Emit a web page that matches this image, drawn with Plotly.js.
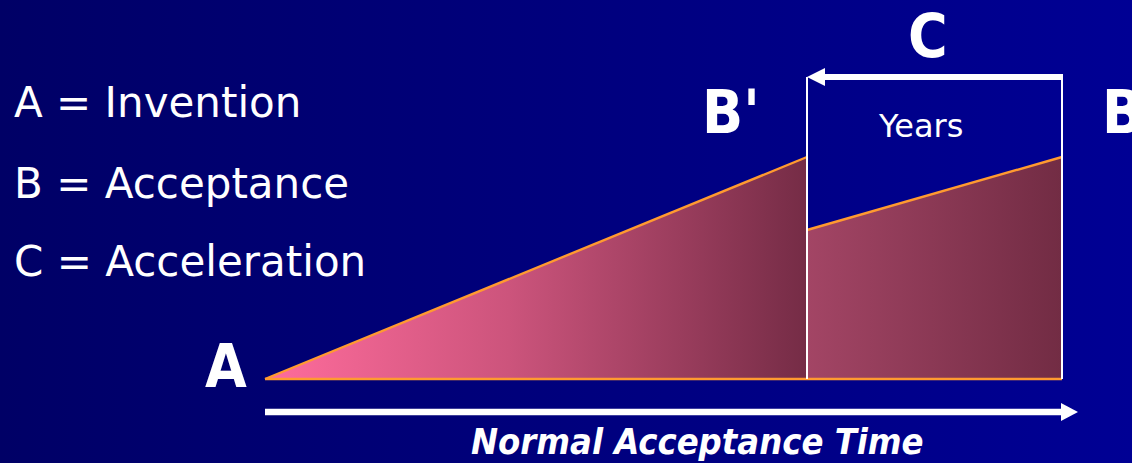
<!DOCTYPE html>
<html>
<head>
<meta charset="utf-8">
<script src="https://cdn.plot.ly/plotly-3.0.1.min.js"></script>
<style>
html,body{margin:0;padding:0;}
#chart{width:1132px;height:463px;background:linear-gradient(to right,#000066,#000094);}
</style>
</head>
<body>
<div id="chart"></div>
<script>
// Diagram values (in drawing units: x = time position, y = height measured downward)
const stageLabels = ['A', "B'", 'B'];
const stageX = [265, 807, 1062];          // A (invention), B' (accelerated acceptance), B (normal acceptance)
const baseY = 379;                        // zero acceptance level
const rampTopY = [379, 157];              // acceptance ramp: A -> B'
const slowTopY = [230, 157];              // normal ramp remainder: B' -> B
const bracketY = 77;                      // top of the "C" bracket
const timeArrowY = 412;                   // normal acceptance time axis
const timeArrowEndX = 1078;
const legendLines = ['A = Invention', 'B = Acceptance', 'C = Acceleration'];
const legendY = [102, 183, 261];

const traces = [];
// ramp triangle A -> B'
traces.push({
  x: [stageX[0], stageX[1], stageX[1], stageX[0]],
  y: [rampTopY[0], rampTopY[1], baseY, baseY],
  type: 'scatter', mode: 'lines', fill: 'toself',
  line: {width: 0, color: 'rgba(0,0,0,0)'},
  fillgradient: {type: 'horizontal', colorscale: [[0, '#ff6c9c'], [0.45, '#cc547c'], [1, '#752c46']]},
  hoverinfo: 'skip'
});
// trapezoid B' -> B
traces.push({
  x: [stageX[1], stageX[2], stageX[2], stageX[1], stageX[1]],
  y: [slowTopY[0], slowTopY[1], baseY, baseY, slowTopY[0]],
  type: 'scatter', mode: 'lines', fill: 'toself',
  line: {width: 0, color: 'rgba(0,0,0,0)'},
  fillgradient: {type: 'horizontal', colorscale: [[0, '#a34565'], [1, '#722c44']]},
  hoverinfo: 'skip'
});
// orange outlines
const orange = '#ff9a30';
traces.push({x: [stageX[0], stageX[1]], y: [rampTopY[0], rampTopY[1]], mode: 'lines', line: {color: orange, width: 2.4}, hoverinfo: 'skip'});
traces.push({x: [stageX[1], stageX[2]], y: [slowTopY[0], slowTopY[1]], mode: 'lines', line: {color: orange, width: 2.4}, hoverinfo: 'skip'});
traces.push({x: [stageX[0], stageX[2]], y: [baseY, baseY], mode: 'lines', line: {color: orange, width: 2.4}, hoverinfo: 'skip'});
// white bracket verticals
traces.push({x: [stageX[1], stageX[1]], y: [bracketY, baseY], mode: 'lines', line: {color: '#ffffff', width: 2}, hoverinfo: 'skip'});
traces.push({x: [stageX[2], stageX[2]], y: [bracketY - 2, baseY], mode: 'lines', line: {color: '#ffffff', width: 2}, hoverinfo: 'skip'});
// C arrow shaft (right to left)
traces.push({x: [stageX[2] + 1, stageX[1] + 14], y: [bracketY, bracketY], mode: 'lines', line: {color: '#ffffff', width: 6}, hoverinfo: 'skip'});
// C arrow head
traces.push({x: [stageX[1], stageX[1] + 18, stageX[1] + 18, stageX[1]], y: [bracketY, bracketY - 9, bracketY + 9, bracketY],
  mode: 'lines', fill: 'toself', fillcolor: '#ffffff', line: {width: 0, color: '#ffffff'}, hoverinfo: 'skip'});
// time arrow shaft
traces.push({x: [stageX[0], timeArrowEndX - 14], y: [timeArrowY, timeArrowY], mode: 'lines', line: {color: '#ffffff', width: 6.5}, hoverinfo: 'skip'});
// time arrow head
traces.push({x: [timeArrowEndX, timeArrowEndX - 17, timeArrowEndX - 17, timeArrowEndX], y: [timeArrowY, timeArrowY - 9, timeArrowY + 9, timeArrowY],
  mode: 'lines', fill: 'toself', fillcolor: '#ffffff', line: {width: 0, color: '#ffffff'}, hoverinfo: 'skip'});

const boldFont = {family: 'DejaVu Sans Condensed, DejaVu Sans', size: 60, color: '#ffffff', weight: 'bold'};
const annotations = [];
legendLines.forEach((t, i) => annotations.push({
  x: 12, y: legendY[i], xref: 'x', yref: 'y', text: t, showarrow: false, xanchor: 'left', yanchor: 'middle',
  font: {family: 'DejaVu Sans', size: 42, color: '#ffffff'}
}));
annotations.push({x: 226, y: 366, xref: 'x', yref: 'y', text: '<b>' + stageLabels[0] + '</b>', showarrow: false, xanchor: 'center', yanchor: 'middle', font: boldFont});
annotations.push({x: 731, y: 112, xref: 'x', yref: 'y', text: '<b>' + stageLabels[1] + '</b>', showarrow: false, xanchor: 'center', yanchor: 'middle', font: boldFont});
annotations.push({x: 1100, y: 112, xref: 'x', yref: 'y', text: '<b>' + stageLabels[2] + '</b>', showarrow: false, xanchor: 'left', yanchor: 'middle', font: boldFont});
annotations.push({x: 928, y: 0, xref: 'x', yref: 'y', text: '<b>C</b>', showarrow: false, xanchor: 'center', yanchor: 'top', borderpad: 0, font: boldFont});
annotations.push({x: 920, y: 126, xref: 'x', yref: 'y', text: 'Years', showarrow: false, xanchor: 'center', yanchor: 'middle',
  font: {family: 'DejaVu Sans', size: 32, color: '#ffffff'}});
annotations.push({x: 697, y: 463, xref: 'x', yref: 'y', text: '<b><i>Normal Acceptance Time</i></b>', showarrow: false, xanchor: 'center', yanchor: 'bottom', borderpad: 0,
  font: {family: 'DejaVu Sans Condensed, DejaVu Sans', size: 36, color: '#ffffff'}});

const layout = {
  width: 1132, height: 463,
  margin: {l: 0, r: 0, t: 0, b: 0, pad: 0},
  paper_bgcolor: 'rgba(0,0,0,0)', plot_bgcolor: 'rgba(0,0,0,0)',
  showlegend: false,
  xaxis: {range: [0, 1132], visible: false, fixedrange: true},
  yaxis: {range: [463, 0], visible: false, fixedrange: true},
  annotations: annotations
};
Plotly.newPlot('chart', traces, layout, {staticPlot: true, displayModeBar: false});
</script>
</body>
</html>
